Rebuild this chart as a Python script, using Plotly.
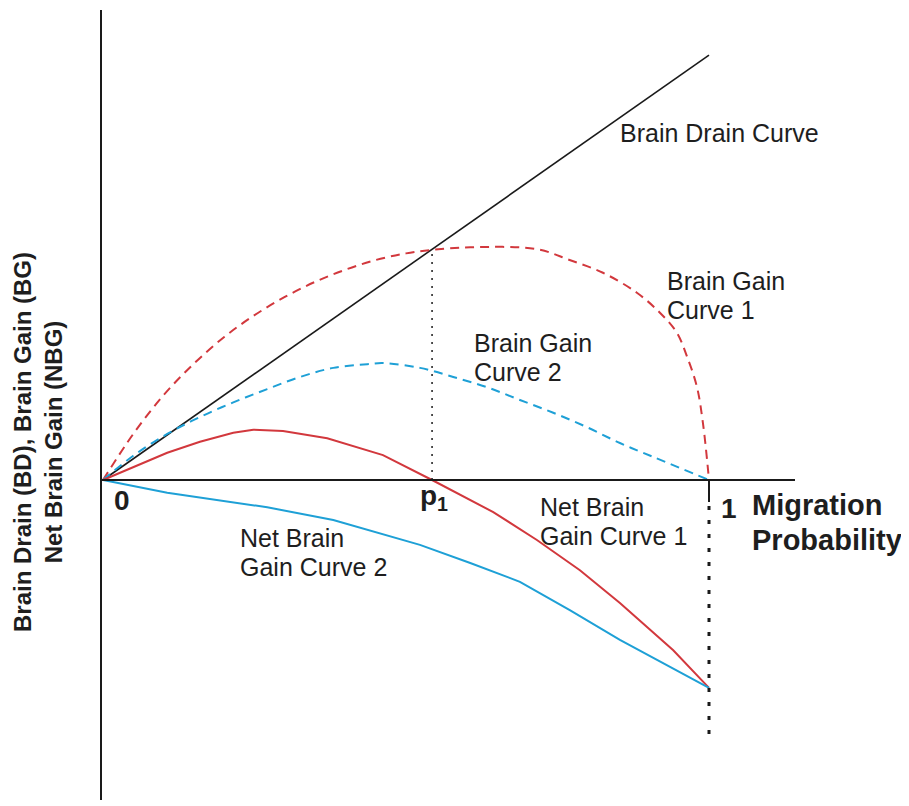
import plotly.graph_objects as go

# ---- data (x = migration probability, y = BD / BG / NBG in common units) ----
bd_x = [0.0, 1.0]
bd_y = [0.0, 0.701]

bg1_x = [0, 0.05, 0.10, 0.15, 0.20, 0.25, 0.30, 0.35, 0.40, 0.45, 0.50, 0.545,
         0.606, 0.716, 0.770, 0.825, 0.881, 0.919, 0.947, 0.964, 0.980, 0.990, 1.0]
bg1_y = [0, 0.076, 0.140, 0.192, 0.236, 0.272, 0.302, 0.327, 0.347, 0.363, 0.374, 0.380,
         0.384, 0.381, 0.363, 0.342, 0.309, 0.276, 0.243, 0.203, 0.154, 0.094, 0]

bg2_x = [0, 0.050, 0.106, 0.160, 0.215, 0.271, 0.325, 0.380, 0.436, 0.462, 0.523,
         0.578, 0.634, 0.688, 0.743, 0.799, 0.853, 0.908, 1.0]
bg2_y = [0, 0.040, 0.076, 0.104, 0.128, 0.150, 0.170, 0.185, 0.191, 0.193, 0.185,
         0.170, 0.153, 0.132, 0.111, 0.087, 0.061, 0.038, 0]

nbg1_x = [0, 0.050, 0.106, 0.160, 0.215, 0.248, 0.297, 0.370, 0.462, 0.543,
          0.644, 0.716, 0.787, 0.853, 0.941, 1.0]
nbg1_y = [0, 0.021, 0.045, 0.063, 0.078, 0.083, 0.081, 0.069, 0.041, 0.0,
          -0.053, -0.099, -0.149, -0.203, -0.281, -0.343]

nbg2_x = [0, 0.106, 0.271, 0.380, 0.523, 0.606, 0.688, 0.771, 0.853, 1.0]
nbg2_y = [0, -0.021, -0.045, -0.066, -0.107, -0.137, -0.168, -0.215, -0.264, -0.343]

p1 = 0.543
tick_labels = ["0", "p<sub>1</sub>", "1"]

RED = "#d2383d"
BLUE = "#1ea0d6"
FONT = "Liberation Sans, Arial, sans-serif"

OFF = 8                      # default page body margin
W, H = 909 - OFF, 806 - OFF
# axis mapping: 606 px per unit, origin at reference pixel (103, 480)
S = 606
X0, Y0 = 103 - OFF, 480 - OFF
xr = [-X0 / S, (W - X0) / S]
yr = [(Y0 - H) / S, Y0 / S]

fig = go.Figure()
fig.add_trace(go.Scatter(x=bd_x, y=bd_y, mode="lines",
                         line=dict(color="#1a1a1a", width=1.6)))
fig.add_trace(go.Scatter(x=bg1_x, y=bg1_y, mode="lines", line_shape="spline",
                         line=dict(color=RED, width=2, dash="9px,6px")))
fig.add_trace(go.Scatter(x=bg2_x, y=bg2_y, mode="lines", line_shape="spline",
                         line=dict(color=BLUE, width=2, dash="9px,6px")))
fig.add_trace(go.Scatter(x=nbg1_x, y=nbg1_y, mode="lines",
                         line=dict(color=RED, width=2)))
fig.add_trace(go.Scatter(x=nbg2_x, y=nbg2_y, mode="lines",
                         line=dict(color=BLUE, width=2)))

def ry(py):  # reference pixel y -> data y
    return (480 - py) / S

def rx(px):  # reference pixel x -> data x
    return (px - 103) / S

shapes = [
    dict(type="line", xref="x", yref="y", x0=rx(101), x1=rx(101),
         y0=ry(800), y1=ry(10), line=dict(color="#1a1a1a", width=2)),
    dict(type="line", xref="x", yref="y", x0=rx(101), x1=rx(795),
         y0=0, y1=0, line=dict(color="#1a1a1a", width=2)),
    dict(type="line", xref="x", yref="y", x0=p1, x1=p1, y0=0, y1=p1 * bd_y[1] / bd_x[1],
         line=dict(color="#1a1a1a", width=1.5, dash="2px,6px")),
    dict(type="line", xref="x", yref="y", x0=1, x1=1, y0=0, y1=ry(502),
         line=dict(color="#1a1a1a", width=2)),
    dict(type="line", xref="x", yref="y", x0=1, x1=1, y0=ry(506), y1=ry(736),
         line=dict(color="#1a1a1a", width=3, dash="4px,10px")),
]

def ann(px, py, text, size=25, bold=False, xanchor="left", **kw):
    t = f"<b>{text}</b>" if bold else text
    return dict(x=(px - OFF) / W, y=1 - (py - OFF) / H, xref="paper", yref="paper",
                text=t, showarrow=False, xanchor=xanchor, yanchor="middle",
                align="left", font=dict(family=FONT, size=size, color="#1e1e1e"), **kw)

annotations = [
    ann(618, 133, "Brain Drain Curve"),
    ann(665, 281, "Brain Gain"),
    ann(665, 310, "Curve 1"),
    ann(472, 343, "Brain Gain"),
    ann(472, 372, "Curve 2"),
    ann(538, 507, "Net Brain"),
    ann(538, 536, "Gain Curve 1"),
    ann(238, 538, "Net Brain"),
    ann(238, 567, "Gain Curve 2"),
    ann(122, 500, tick_labels[0], size=28, bold=True, xanchor="center"),
    ann(434, 497, tick_labels[1], size=28, bold=True, xanchor="center"),
    ann(729, 508, tick_labels[2], size=28, bold=True, xanchor="center"),
    ann(750, 505, "Migration", size=29, bold=True),
    ann(750, 540, "Probability", size=29, bold=True),
    dict(x=(38 - OFF) / W, y=1 - (442 - OFF) / H, xref="paper", yref="paper",
         text="<b>Brain Drain (BD), Brain Gain (BG)<br>Net Brain Gain (NBG)</b>",
         showarrow=False, textangle=-90, xanchor="center", yanchor="middle",
         align="center", font=dict(family=FONT, size=24, color="#1e1e1e")),
]

fig.update_layout(
    width=W, height=H, margin=dict(l=0, r=0, t=0, b=0, pad=0),
    paper_bgcolor="white", plot_bgcolor="white", showlegend=False,
    xaxis=dict(range=xr, visible=False, fixedrange=True),
    yaxis=dict(range=yr, visible=False, fixedrange=True),
    shapes=shapes, annotations=annotations,
)

fig.write_html("out.html")
